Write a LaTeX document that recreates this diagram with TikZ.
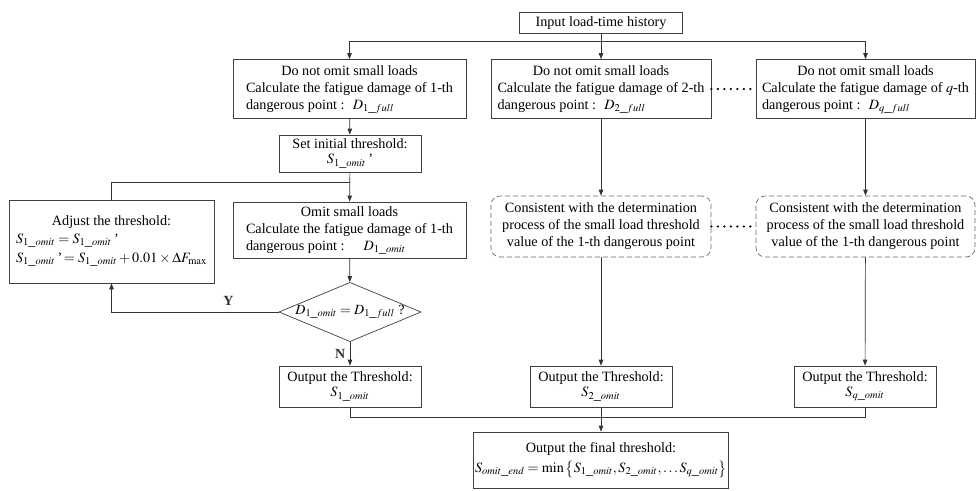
\documentclass[tikz,border=0pt]{standalone}
\usepackage{mathptmx}
\usepackage{fontspec}
\setmainfont{Liberation Serif}
\usetikzlibrary{arrows.meta,shapes.geometric}

\newcommand\threeline[3]{\begin{tabular}{@{}l@{}}\multicolumn{1}{@{}c@{}}{#1}\\#2\\#3\end{tabular}}

\begin{document}
\begin{tikzpicture}[x=1pt, y=-1pt,
  every node/.style={font=\fontsize{14.2}{17}\selectfont},
  box/.style={draw=black!75, line width=0.7pt, inner sep=1.5pt, align=center},
  dashbox/.style={draw=black!60, dash pattern=on 5pt off 3pt, rounded corners=9pt, line width=0.7pt, inner sep=1.5pt, align=center},
  decide/.style={draw=black!75, line width=0.7pt, diamond, aspect=2.4, inner sep=0pt, font=\fontsize{14}{16}\selectfont},
  flow/.style={line width=0.7pt, black!80, -{Triangle[length=6pt, width=4.5pt]}},
  line/.style={line width=0.7pt, black!80},
  dots/.style={line width=2.4pt, line cap=round, dash pattern=on 0pt off 6.5pt},
  answer/.style={font=\bfseries\fontsize{14}{16}\selectfont}
]
\useasboundingbox (0,0) rectangle (976,490);

\node[box, minimum width=163, minimum height=21] (input) at (601,23) {Input load-time history};

\begin{scope}[every node/.append style={box, minimum height=59}]
\node[minimum width=233] (full1) at (349.5,89)
  {\threeline{Do not omit small loads}{Calculate the fatigue damage of 1-th}{dangerous point : \ $D_{1\_full}$}};
\node[minimum width=220] (full2) at (601,89)
  {\threeline{Do not omit small loads}{Calculate the fatigue damage of 2-th}{dangerous point : \ $D_{2\_full}$}};
\node[minimum width=219] (full3) at (865.5,89)
  {\threeline{Do not omit small loads}{Calculate the fatigue damage of $q$-th}{dangerous point : \ $D_{q\_full}$}};
\end{scope}

\node[box, minimum width=142, minimum height=37] (init) at (350,153.5) {Set initial threshold:\\[-2pt]$S_{1\_omit}$\,'};
\coordinate (back) at (350,182);

\node[box, minimum width=233, minimum height=56] (omit1) at (349.5,230)
  {\threeline{Omit small loads}{Calculate the fatigue damage of 1-th}{dangerous point : \quad $D_{1\_omit}$}};

\node[box, minimum width=205, minimum height=83] (adjust) at (111.5,241.5)
  {Adjust the threshold:\\[2pt]
   \begin{tabular}{@{}l@{}}$S_{1\_omit}=S_{1\_omit}$\,'\\[2pt]$S_{1\_omit}$\,'$\,=S_{1\_omit}+0.01\times\Delta F_{\max}$\end{tabular}};

\node[decide] (check) at (350,312) {$D_{1\_omit}=D_{1\_full}$ ?};

\begin{scope}[every node/.append style={dashbox, minimum height=61}]
\node[minimum width=220] (same2) at (601,226.5)
  {Consistent with the determination\\process of the small load threshold\\value of the 1-th dangerous point};
\node[minimum width=219] (same3) at (865.5,226.5)
  {Consistent with the determination\\process of the small load threshold\\value of the 1-th dangerous point};
\end{scope}

\begin{scope}[every node/.append style={box, minimum width=142, minimum height=41}]
\node (out1) at (350,386.5) {Output the Threshold:\\[-2pt]$S_{1\_omit}$};
\node (out2) at (601,386.5) {Output the Threshold:\\[-2pt]$S_{2\_omit}$};
\node (outq) at (865,386.5) {Output the Threshold:\\[-2pt]$S_{q\_omit}$};
\end{scope}
\coordinate (merge) at (601,417);

\node[box, minimum width=250, minimum height=56] (final) at (601,460)
  {Output the final threshold:\\[3pt]$S_{omit\_end}=\min\,\bigl\{S_{1\_omit},S_{2\_omit},\dots S_{q\_omit}\bigr\}$};

% top split
\coordinate (split) at (601,41);
\draw[line] (input) -- (split);
\draw[flow] (split) -| (full1.north);
\draw[flow] (split) -- (full2.north);
\draw[flow] (split) -| (full3.north);

% first point loop
\draw[flow] (full1) -- (init);
\draw[flow] (init) -- (omit1);
\draw[line] (adjust.north) |- (back);
\draw[flow] (omit1) -- (check);
\draw[flow] (check.west) -| node[pos=0.15, above=3pt, answer] {Y} (adjust.south);
\draw[flow] (check.south) -- node[left=1pt, answer] {N} (out1.north);

% other points
\draw[flow] (full2) -- (same2);
\draw[flow] (same2) -- (out2);
\draw[flow] (full3) -- (same3);
\draw[flow] (same3) -- (outq);
\draw[dots] (full2.east) -- (full3.west);
\draw[dots] (same2.east) -- (same3.west);

% merge
\draw[line] (out1.south) |- (merge);
\draw[line] (outq.south) |- (merge);
\draw[flow] (out2) -- (final);

\end{tikzpicture}
\end{document}
